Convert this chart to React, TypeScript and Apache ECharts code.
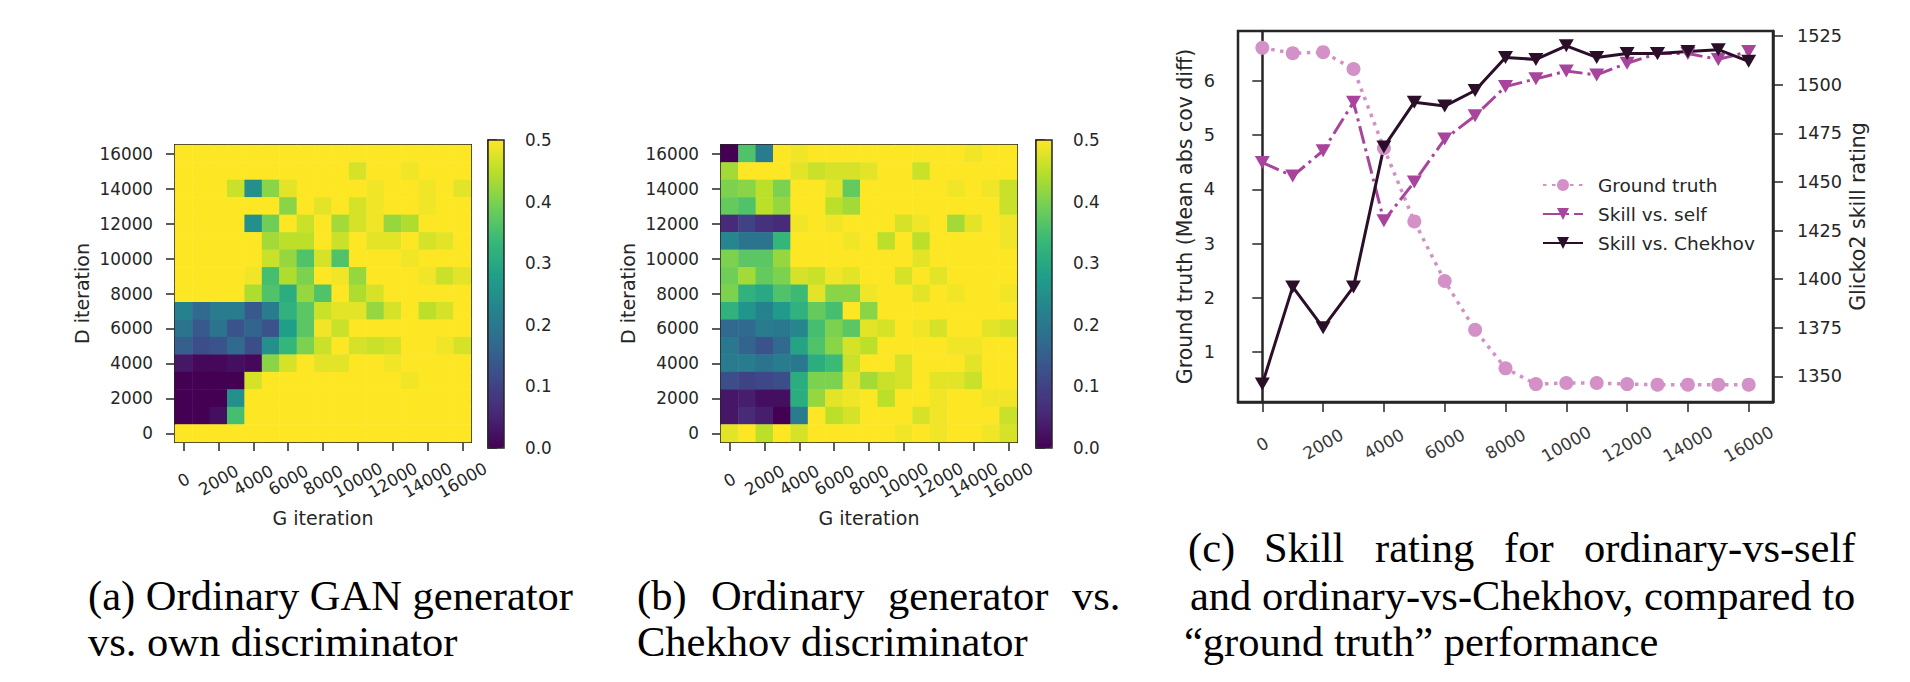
import React, { useEffect, useRef } from "react";
import * as echarts from "echarts";

// iteration labels for both heatmaps (columns = G, rows = D)
const gIterations = ["0", "1000", "2000", "3000", "4000", "5000", "6000", "7000", "8000", "9000", "10000", "11000", "12000", "13000", "14000", "15000", "16000"];
const dIterations = ["0", "1000", "2000", "3000", "4000", "5000", "6000", "7000", "8000", "9000", "10000", "11000", "12000", "13000", "14000", "15000", "16000"];

// (a) rows listed from D=16000 (top) down to D=0
const ownDiscRows = [
  [.5, .5, .5, .5, .5, .5, .5, .5, .5, .5, .5, .5, .5, .5, .5, .5, .5],
  [.5, .5, .5, .5, .5, .5, .5, .5, .5, .5, .47, .5, .5, .49, .5, .5, .5],
  [.5, .5, .5, .46, .25, .41, .48, .5, .5, .5, .5, .49, .5, .5, .49, .5, .48],
  [.5, .5, .5, .5, .5, .5, .41, .5, .48, .5, .47, .49, .5, .5, .49, .5, .5],
  [.5, .5, .5, .5, .25, .39, .5, .46, .5, .43, .47, .49, .42, .44, .5, .5, .5],
  [.5, .5, .5, .5, .5, .43, .45, .45, .5, .46, .5, .48, .48, .5, .47, .48, .5],
  [.5, .5, .5, .5, .5, .46, .42, .36, .47, .36, .5, .5, .5, .49, .5, .5, .5],
  [.5, .5, .5, .5, .49, .35, .44, .4, .5, .49, .42, .5, .5, .5, .49, .46, .48],
  [.5, .5, .5, .5, .44, .36, .31, .42, .36, .5, .44, .47, .5, .5, .5, .5, .5],
  [.22, .17, .21, .21, .14, .21, .32, .37, .46, .48, .48, .42, .47, .5, .45, .47, .5],
  [.19, .14, .19, .13, .16, .13, .28, .37, .49, .46, .5, .5, .5, .5, .5, .5, .5],
  [.15, .12, .13, .17, .12, .25, .33, .4, .46, .5, .47, .46, .47, .5, .5, .49, .47],
  [.03, .01, .01, .02, .01, .41, .47, .5, .48, .48, .5, .5, .49, .5, .5, .5, .5],
  [0, 0, 0, 0, .47, .5, .5, .5, .5, .5, .5, .5, .5, .49, .5, .5, .5],
  [0, 0, 0, .25, .5, .5, .5, .5, .5, .5, .5, .5, .5, .5, .5, .5, .5],
  [0, 0, .02, .35, .5, .5, .5, .5, .5, .5, .5, .5, .5, .5, .5, .5, .5],
  [.5, .5, .5, .5, .5, .5, .5, .5, .5, .5, .5, .5, .5, .5, .5, .5, .5],
];

// (b) rows listed from D=16000 (top) down to D=0
const chekhovDiscRows = [
  [0, .36, .21, .5, .49, .5, .5, .5, .5, .5, .5, .5, .5, .5, .49, .5, .5],
  [.43, .5, .5, .5, .48, .46, .47, .47, .48, .5, .5, .46, .5, .5, .5, .5, .5],
  [.4, .41, .45, .4, .5, .5, .48, .38, .5, .5, .5, .5, .5, .49, .5, .49, .46],
  [.38, .36, .45, .42, .5, .5, .45, .43, .5, .5, .5, .5, .5, .5, .5, .5, .46],
  [.06, .1, .07, .06, .49, .5, .49, .5, .5, .5, .47, .49, .5, .43, .48, .5, .49],
  [.23, .19, .19, .33, .5, .5, .5, .49, .5, .45, .5, .45, .5, .5, .5, .5, .49],
  [.4, .37, .37, .42, .5, .5, .5, .5, .5, .5, .5, .48, .5, .5, .5, .5, .5],
  [.39, .43, .38, .4, .47, .46, .49, .48, .5, .5, .47, .5, .48, .5, .5, .5, .5],
  [.4, .32, .3, .36, .34, .48, .41, .41, .49, .5, .5, .48, .5, .49, .5, .5, .49],
  [.32, .26, .22, .27, .32, .38, .35, .5, .41, .5, .5, .5, .5, .5, .5, .5, .5],
  [.17, .17, .21, .2, .23, .35, .4, .37, .48, .47, .5, .49, .47, .5, .5, .48, .47],
  [.2, .16, .13, .17, .29, .36, .41, .47, .45, .5, .5, .5, .5, .49, .49, .5, .5],
  [.21, .21, .19, .21, .2, .31, .34, .46, .5, .5, .47, .5, .5, .5, .48, .5, .5],
  [.12, .1, .11, .12, .31, .4, .4, .48, .43, .46, .47, .5, .48, .48, .46, .5, .5],
  [.03, .04, .02, .02, .31, .42, .48, .49, .5, .45, .5, .5, .49, .5, .5, .49, .49],
  [.03, .06, .04, 0, .21, .5, .45, .47, .5, .5, .5, .47, .49, .5, .5, .5, .46],
  [.48, .5, .45, .5, .47, .5, .5, .5, .5, .5, .49, .5, .49, .5, .5, .49, .47],
];

// (c) line chart
const trainSteps = [0, 1000, 2000, 3000, 4000, 5000, 6000, 7000, 8000, 9000, 10000, 11000, 12000, 13000, 14000, 15000, 16000];
const groundTruth = [6.61, 6.51, 6.53, 6.22, 4.76, 3.41, 2.31, 1.41, 0.7, 0.41, 0.43, 0.43, 0.41, 0.4, 0.4, 0.4, 0.4];
const skillVsSelf = [1460, 1453, 1466, 1491, 1430, 1450, 1472, 1484, 1499, 1503, 1507, 1505, 1511, 1516, 1516, 1513, 1517];
const skillVsChekhov = [1346, 1396, 1375, 1396, 1468, 1491, 1489, 1497, 1514, 1513, 1520, 1514, 1516, 1516, 1517, 1518, 1512];

const stepTicks = [0, 2000, 4000, 6000, 8000, 10000, 12000, 14000, 16000];
const truthTicks = [1, 2, 3, 4, 5, 6];
const ratingTicks = [1350, 1375, 1400, 1425, 1450, 1475, 1500, 1525];

const viridis = ["#440154", "#482878", "#3e4989", "#31688e", "#26828e", "#1f9e89", "#35b779", "#6ece58", "#b5de2b", "#fde725"];

const ink = "#262626";
const sans = "DejaVu Sans";
const serif = "Liberation Serif";
const downTriangle = "path://M0,0 L10,0 L5,9 Z";
const plain = (v: number) => String(v);

const toCells = (rows: number[][]) =>
  rows.flatMap((row, r) => row.map((v, c) => [c, rows.length - 1 - r, v]));

const App = () => {
  const chartRef = useRef<HTMLDivElement>(null);

  useEffect(() => {
    if (!chartRef.current) return;
    const chart = echarts.init(chartRef.current, undefined, { renderer: "svg" });

    const heatX = (gridIndex: number) => ({
      type: "category" as const,
      gridIndex,
      data: gIterations,
      name: "G iteration",
      nameLocation: "middle" as const,
      nameGap: 66,
      nameTextStyle: { fontSize: 19, color: ink },
      axisLine: { show: true, lineStyle: { color: ink, width: 2 } },
      axisTick: { show: true, interval: 1, alignWithLabel: true, length: 9, lineStyle: { color: ink, width: 1.5 } },
      axisLabel: { interval: 1, rotate: 30, align: "center", verticalAlign: "middle", margin: 38, fontSize: 16.8, color: ink },
      splitLine: { show: false },
    });
    const heatY = (gridIndex: number) => ({
      type: "category" as const,
      gridIndex,
      data: dIterations,
      name: "D iteration",
      nameLocation: "middle" as const,
      nameGap: 84,
      nameTextStyle: { fontSize: 19, color: ink },
      axisLine: { show: true, lineStyle: { color: ink, width: 2 } },
      axisTick: { show: true, interval: 1, alignWithLabel: true, length: 9, lineStyle: { color: ink, width: 1.5 } },
      axisLabel: { interval: 1, margin: 22, fontSize: 16.8, color: ink },
      splitLine: { show: false },
    });
    const barX = (gridIndex: number) => ({ type: "value" as const, gridIndex, min: 0, max: 1, show: false });
    const barY = (gridIndex: number) => ({
      type: "value" as const,
      gridIndex,
      position: "right" as const,
      min: 0,
      max: 0.5,
      interval: 0.1,
      axisLine: { show: true, lineStyle: { color: ink, width: 1.5 } },
      axisTick: { show: true, length: 9, lineStyle: { color: ink, width: 1.5 } },
      axisLabel: { margin: 21, fontSize: 16.8, color: ink, formatter: (v: number) => v.toFixed(1) },
      splitLine: { show: false },
    });

    const caption = (text: string, x: number, y: number) => ({
      type: "text",
      x,
      y,
      style: { text, fill: "#000", font: `42.5px "${serif}"`, textVerticalAlign: "middle" },
    });

    const option: any = {
      animation: false,
      textStyle: { fontFamily: sans },
      grid: [
        { left: 175, top: 145, width: 296, height: 297, show: true, borderColor: ink, borderWidth: 2 },
        { left: 721, top: 145, width: 296, height: 297, show: true, borderColor: ink, borderWidth: 2 },
        { left: 488, top: 140, width: 16, height: 308, show: true, borderColor: ink, borderWidth: 1.5, z: 10 },
        { left: 1036, top: 140, width: 16, height: 308, show: true, borderColor: ink, borderWidth: 1.5, z: 10 },
        { left: 1238, top: 31, width: 535, height: 371, show: true, borderColor: ink, borderWidth: 2.5 },
      ],
      xAxis: [
        heatX(0),
        heatX(1),
        barX(2),
        barX(3),
        {
          type: "value",
          gridIndex: 4,
          min: -800,
          max: 16800,
          axisLine: { show: true, lineStyle: { color: ink, width: 2.5 } },
          axisTick: { show: true, length: 10, customValues: stepTicks, lineStyle: { color: ink, width: 1.5 } },
          axisLabel: { customValues: stepTicks, formatter: plain, rotate: 30, align: "center", verticalAlign: "middle", margin: 42, fontSize: 17, color: "#3a3a3a" },
          splitLine: { show: false },
        },
      ],
      yAxis: [
        heatY(0),
        heatY(1),
        barY(2),
        barY(3),
        {
          type: "value",
          gridIndex: 4,
          min: 0.08,
          max: 6.92,
          name: "Ground truth (Mean abs cov diff)",
          nameLocation: "middle",
          nameGap: 43,
          nameTextStyle: { fontSize: 20.5, color: ink },
          axisLine: { show: true, lineStyle: { color: ink, width: 2.5 } },
          axisTick: { show: true, length: 10, customValues: truthTicks, lineStyle: { color: ink, width: 1.5 } },
          axisLabel: { customValues: truthTicks, formatter: plain, margin: 23, fontSize: 17.7, color: ink },
          splitLine: { show: false },
        },
        {
          type: "value",
          gridIndex: 4,
          position: "right",
          min: 1336.8,
          max: 1527.6,
          name: "Glicko2 skill rating",
          nameLocation: "middle",
          nameRotate: 90,
          nameGap: 74,
          nameTextStyle: { fontSize: 20.5, color: ink },
          axisLine: { show: true, lineStyle: { color: ink, width: 2.5 } },
          axisTick: { show: true, length: 10, customValues: ratingTicks, lineStyle: { color: ink, width: 1.5 } },
          axisLabel: { customValues: ratingTicks, formatter: plain, margin: 24, fontSize: 17.7, color: ink },
          splitLine: { show: false },
        },
      ],
      visualMap: [
        { type: "continuous", seriesIndex: 0, min: 0, max: 0.5, left: 488, top: 140, itemWidth: 16, itemHeight: 308, padding: 0, calculable: false, hoverLink: false, inRange: { color: viridis } },
        { type: "continuous", seriesIndex: 1, min: 0, max: 0.5, left: 1036, top: 140, itemWidth: 16, itemHeight: 308, padding: 0, calculable: false, hoverLink: false, inRange: { color: viridis } },
      ],
      legend: {
        data: ["Ground truth", "Skill vs. self", "Skill vs. Chekhov"],
        orient: "vertical",
        left: 1542,
        top: 175,
        padding: 0,
        itemWidth: 40,
        itemHeight: 15,
        itemGap: 9,
        selectedMode: false,
        textStyle: { fontSize: 18.5, color: ink, lineHeight: 20, padding: [0, 0, 0, 10] },
      },
      series: [
        { type: "heatmap", xAxisIndex: 0, yAxisIndex: 0, data: toCells(ownDiscRows), emphasis: { disabled: true }, progressive: 0 },
        { type: "heatmap", xAxisIndex: 1, yAxisIndex: 1, data: toCells(chekhovDiscRows), emphasis: { disabled: true }, progressive: 0 },
        {
          name: "Ground truth",
          type: "line",
          xAxisIndex: 4,
          yAxisIndex: 4,
          data: trainSteps.map((s, i) => [s, groundTruth[i]]),
          symbol: "circle",
          symbolSize: 14,
          color: "#d491c7",
          itemStyle: { color: "#d491c7" },
          lineStyle: { color: "#d491c7", width: 3.5, type: [3.5, 5.5], cap: "butt" },
        },
        {
          name: "Skill vs. self",
          type: "line",
          xAxisIndex: 4,
          yAxisIndex: 5,
          data: trainSteps.map((s, i) => [s, skillVsSelf[i]]),
          symbol: downTriangle,
          symbolSize: [15, 13],
          color: "#a8449c",
          itemStyle: { color: "#a8449c" },
          lineStyle: { color: "#a8449c", width: 3, type: [18, 5, 3, 5] },
        },
        {
          name: "Skill vs. Chekhov",
          type: "line",
          xAxisIndex: 4,
          yAxisIndex: 5,
          data: trainSteps.map((s, i) => [s, skillVsChekhov[i]]),
          symbol: downTriangle,
          symbolSize: [15, 13],
          color: "#2b0f28",
          itemStyle: { color: "#2b0f28" },
          lineStyle: { color: "#2b0f28", width: 3 },
        },
      ],
      graphic: [
        caption("(a) Ordinary GAN generator", 88, 595),
        caption("vs. own discriminator", 88, 641),
        caption("(b)", 637, 595),
        caption("Ordinary", 711, 595),
        caption("generator", 888, 595),
        caption("vs.", 1072, 595),
        caption("Chekhov discriminator", 637, 641),
        caption("(c)", 1188, 547),
        caption("Skill", 1264, 547),
        caption("rating", 1375, 547),
        caption("for", 1504, 547),
        caption("ordinary-vs-self", 1584, 547),
        caption("and ordinary-vs-Chekhov, compared to", 1190, 595),
        caption("\u201cground truth\u201d performance", 1184, 641),
      ],
    };

    chart.setOption(option);

    return () => {
      chart.dispose();
    };
  }, []);

  return (
    <div
      ref={chartRef}
      style={{ position: "absolute", left: 0, top: 0, width: "1910px", height: "682px", background: "#fff" }}
    />
  );
};

export default App;
